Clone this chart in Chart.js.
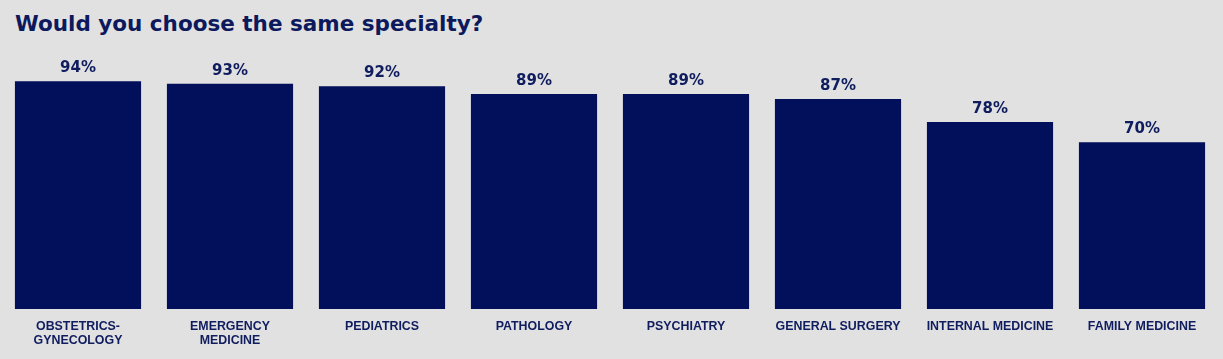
<!DOCTYPE html>
<html>
<head>
<meta charset="utf-8">
<script src="https://cdn.jsdelivr.net/npm/chart.js@4/dist/chart.umd.min.js"></script>
<style>
  html, body { margin: 0; padding: 0; background: #e1e1e1; }
  #wrap { position: relative; width: 1223px; height: 359px; }
  #title {
    position: absolute; left: 15px; top: 11px;
    font-family: "DejaVu Sans", sans-serif; font-weight: bold; font-size: 21.5px;
    color: #0c195c; white-space: nowrap;
  }
  #chart-box { position: absolute; left: 0; top: 0; width: 1223px; height: 359px; }
</style>
</head>
<body>
<div id="wrap">
  <div id="title">Would you choose the same specialty?</div>
  <div id="chart-box"><canvas id="specialty-chart"></canvas></div>
</div>
<script>
//---------------------DATA--------------------------------------//
const specialties = [
  ["OBSTETRICS-", "GYNECOLOGY"],
  ["EMERGENCY", "MEDICINE"],
  "PEDIATRICS",
  "PATHOLOGY",
  "PSYCHIATRY",
  "GENERAL SURGERY",
  "INTERNAL MEDICINE",
  "FAMILY MEDICINE"
];
const sameSpecialtyPct = [94, 93, 92, 89, 89, 87, 78, 70];

const navy = "#020f5a";
const textNavy = "#0f1c5e";

// draws the "94%" labels above each bar
const valueLabels = {
  id: "valueLabels",
  afterDatasetsDraw(chart) {
    const ctx = chart.ctx;
    const meta = chart.getDatasetMeta(0);
    ctx.save();
    ctx.font = "bold 15px 'DejaVu Sans'";
    ctx.fillStyle = textNavy;
    ctx.textAlign = "center";
    ctx.textBaseline = "alphabetic";
    meta.data.forEach((bar, i) => {
      ctx.fillText(sameSpecialtyPct[i] + "%", bar.x, bar.y - 9);
    });
    ctx.restore();
  }
};

let specialtyChart = new Chart(document.getElementById("specialty-chart"), {
  type: "bar",
  data: {
    labels: specialties,
    datasets: [{
      data: sameSpecialtyPct,
      backgroundColor: navy,
      borderWidth: 0,
      barPercentage: 0.83,
      categoryPercentage: 1
    }]
  },
  options: {
    responsive: true,
    maintainAspectRatio: false,
    animation: false,
    layout: { padding: { top: 66, left: 2, right: 5, bottom: 0 } },
    plugins: {
      legend: { display: false },
      tooltip: { enabled: false }
    },
    scales: {
      x: {
        grid: { display: false },
        border: { display: false },
        afterFit(scale) { scale.height = 50; },
        ticks: {
          color: textNavy,
          padding: 3,
          maxRotation: 0,
          autoSkip: false,
          font: { family: "'Liberation Sans'", weight: "bold", size: 12.4, lineHeight: 1.12 }
        }
      },
      y: {
        display: false,
        min: 4.4,
        max: 100
      }
    }
  },
  plugins: [valueLabels]
});
</script>
</body>
</html>
